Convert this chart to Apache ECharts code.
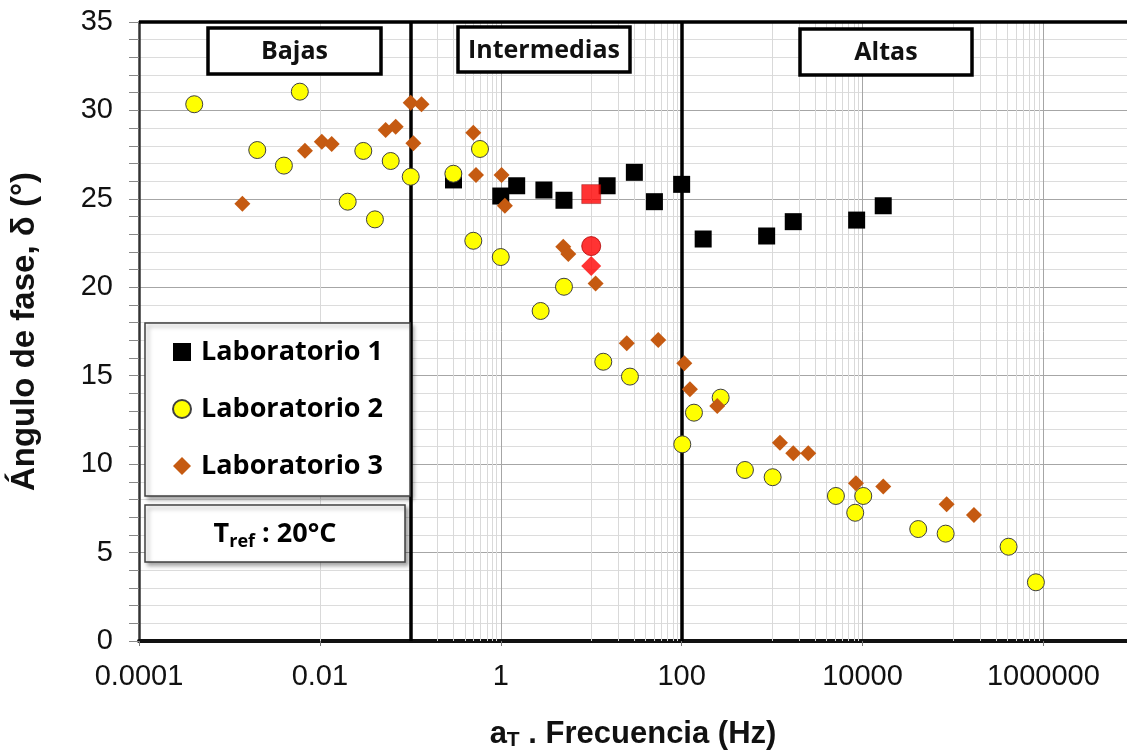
<!DOCTYPE html>
<html>
<head>
<meta charset="utf-8">
<script src="https://cdn.jsdelivr.net/npm/echarts@6/dist/echarts.min.js"></script>
<style>
html,body{margin:0;padding:0;background:#fff;}
#chart{width:1127px;height:752px;}
</style>
</head>
<body>
<div id="chart"></div>
<script>
// ---- data (frequency in Hz, phase angle in degrees) ----
const lab1 = [[0.3,26.07],[1.0,25.16],[1.5,25.74],[3.0,25.50],[5.0,24.92],[15,25.74],[30,26.5],[50,24.84],[100,25.82],[173,22.73],[871,22.90],[1714,23.71],[8610,23.80],[16940,24.61]];
const lab2 = [[0.000408,30.35],[0.00203,27.76],[0.0040,26.88],[0.0060,31.06],[0.0203,24.84],[0.0302,27.71],[0.0406,23.84],[0.0607,27.14],[0.101,26.25],[0.299,26.42],[0.497,22.63],[0.589,27.82],[1.0,21.71],[2.76,18.66],[5.0,20.03],[13.6,15.79],[26.8,14.95],[101.6,11.12],[136.8,12.91],[270,13.76],[501,9.67],[1014,9.26],[5080,8.20],[8300,7.25],[10190,8.20],[41300,6.33],[83000,6.07],[412000,5.33],[826000,3.32]];
const lab3 = [[0.00139,24.73],[0.00684,27.72],[0.0105,28.23],[0.0135,28.10],[0.0533,28.89],[0.0689,29.08],[0.101,30.44],[0.108,28.14],[0.133,30.35],[0.497,28.74],[0.532,26.35],[1.02,26.35],[1.11,24.61],[4.91,22.29],[5.58,21.88],[11.2,20.22],[24.7,16.83],[55.1,17.02],[107,15.70],[123.6,14.23],[247.7,13.29],[1221,11.21],[1714,10.61],[2512,10.61],[8453,8.92],[16940,8.73],[85100,7.73],[170600,7.12]];
// highlighted (red) points at the reference frequency
const lab1Ref = [[10,25.27]];
const lab2Ref = [[10,22.33]];
const lab3Ref = [[10,21.20]];
const seriesNames = ['Laboratorio 1','Laboratorio 2','Laboratorio 3'];
const xTickLabels = ['0.0001','0.01','1','100','10000','1000000'];
const rangeBounds = [0.1, 100];
const rangeNames = ['Bajas','Intermedias','Altas'];
const yTitle = 'Ángulo de fase, δ (°)';
const tempLabel = '20°C';

// minor vertical gridlines (Excel log base 100 style: 10..90 x 100^k)
const minorX = [];
[1e-3,1e-1,1e1,1e3,1e5].forEach(d => { for (let n=1;n<=9;n++) minorX.push(+(n*d).toPrecision(3)); });

const AR = "'Liberation Sans', Arial, sans-serif";
const OS = "'Open Sans', sans-serif";

function box(x, y, w, h, label) {
  return {type: 'group', x: x, y: y, children: [
    {type: 'rect', z: 100, shape: {x: 0, y: 0, width: w, height: h}, style: {fill: '#fff', stroke: '#000', lineWidth: 3.5}},
    {type: 'text', z: 101, x: w/2, y: h/2 + 1, style: {text: label, align: 'center', verticalAlign: 'middle', fontFamily: OS, fontWeight: 'bold', fontSize: 25, fill: '#111'}}
  ]};
}

const chart = echarts.init(document.getElementById('chart'));
const option = {
  animation: false,
  backgroundColor: '#ffffff',
  grid: {left: 139, top: 22, right: 0, bottom: 111, containLabel: false, outerBoundsMode: 'none'},
  xAxis: {
    type: 'log', logBase: 100, min: 1e-4, max: 8.4e6, splitNumber: 6,
    axisLine: {show: true, onZero: false, lineStyle: {color: '#111', width: 4}},
    axisTick: {show: true, length: 5, lineStyle: {color: '#777'}},
    splitLine: {show: true, lineStyle: {color: '#a6a6a6', width: 1}},
    axisLabel: {
      fontFamily: AR, fontSize: 29, color: '#111', margin: 21, showMaxLabel: false,
      formatter: v => { const i = Math.round(Math.log10(v)/2) + 2; return xTickLabels[i] || ''; }
    },
    name: '{m|a}{s|T}{m| . Frecuencia (Hz)}',
    nameLocation: 'middle', nameGap: 76,
    nameTextStyle: {
      rich: {
        m: {fontFamily: AR, fontWeight: 'bold', fontSize: 31, color: '#111', lineHeight: 34},
        s: {fontFamily: AR, fontWeight: 'bold', fontSize: 21, color: '#111', lineHeight: 20, verticalAlign: 'bottom'}
      }
    }
  },
  yAxis: {
    type: 'value', min: 0, max: 35, interval: 5,
    axisLine: {show: true, lineStyle: {color: '#333', width: 2.5}},
    axisTick: {show: true, inside: false, length: 10, lineStyle: {color: '#888'}},
    minorTick: {show: true, splitNumber: 5, length: 10, lineStyle: {color: '#888'}},
    splitLine: {show: true, lineStyle: {color: '#a6a6a6', width: 1}},
    minorSplitLine: {show: true, lineStyle: {color: '#dcdcdc', width: 1}},
    axisLabel: {fontFamily: AR, fontSize: 29, color: '#111', margin: 26},
    name: yTitle, nameLocation: 'middle', nameGap: 98,
    nameTextStyle: {fontFamily: AR, fontWeight: 'bold', fontSize: 33, color: '#111'}
  },
  legend: {
    data: seriesNames, z: 50,
    left: 145, top: 323, orient: 'vertical',
    itemWidth: 18, itemHeight: 18, itemGap: 27,
    padding: [14, 27, 15, 27],
    backgroundColor: '#fff', borderColor: '#404040', borderWidth: 1.5,
    shadowBlur: 4, shadowColor: 'rgba(0,0,0,0.35)', shadowOffsetX: 3, shadowOffsetY: 3,
    textStyle: {fontFamily: OS, fontWeight: 'bold', fontSize: 27, color: '#000', lineHeight: 30, padding: [0,0,0,5]}
  },
  graphic: [
    {type: 'group', x: 145, y: 505, children: [
      {type: 'rect', z: 100, shape: {x: 0, y: 0, width: 260, height: 57},
       style: {fill: '#fff', stroke: '#404040', lineWidth: 1.5, shadowBlur: 4, shadowColor: 'rgba(0,0,0,0.35)', shadowOffsetX: 3, shadowOffsetY: 3}},
      {type: 'text', z: 101, x: 130, y: 29,
       style: {text: '{b|T}{s|ref}{b| : ' + tempLabel + '}', align: 'center', verticalAlign: 'middle',
         rich: {
           b: {fontFamily: OS, fontWeight: 'bold', fontSize: 27, fill: '#000', lineHeight: 34},
           s: {fontFamily: OS, fontWeight: 'bold', fontSize: 18, fill: '#000', lineHeight: 18, verticalAlign: 'bottom'}
         }}}
    ]},
    box(208, 28, 173, 46, rangeNames[0]),
    box(458, 27, 172, 45, rangeNames[1]),
    box(800, 29, 172, 46, rangeNames[2])
  ],
  series: [
    {type: 'scatter', name: 'minorGrid', data: [], z: 1, silent: true,
     markLine: {z: 1, silent: true, symbol: ['none','none'], label: {show: false}, animation: false,
       lineStyle: {color: '#d9d9d9', width: 1, type: 'solid'},
       data: minorX.map(v => ({xAxis: v}))}},
    {type: 'scatter', name: 'bounds', data: [], z: 2, silent: true,
     markLine: {z: 2, silent: true, symbol: ['none','none'], label: {show: false}, animation: false,
       lineStyle: {color: '#000', width: 3.5, type: 'solid'},
       data: rangeBounds.map(v => ({xAxis: v})).concat([{yAxis: 35}])}},
    {type: 'scatter', name: seriesNames[0], data: lab1, z: 10, symbol: 'rect', symbolSize: 17,
     itemStyle: {color: '#000', opacity: 1}},
    {type: 'scatter', name: seriesNames[1], data: lab2, z: 11, symbol: 'circle', symbolSize: 17,
     itemStyle: {color: '#ffff00', borderColor: '#404040', borderWidth: 1, opacity: 1}},
    {type: 'scatter', name: seriesNames[2], data: lab3, z: 12, symbol: 'diamond', symbolSize: 16,
     itemStyle: {color: '#c55a11', opacity: 1}},
    {type: 'scatter', name: 'ref1', data: lab1Ref, z: 13, symbol: 'rect', symbolSize: 19,
     itemStyle: {color: '#ff0000', borderColor: '#7f1010', borderWidth: 0.5}},
    {type: 'scatter', name: 'ref2', data: lab2Ref, z: 13, symbol: 'circle', symbolSize: 19,
     itemStyle: {color: '#ff0000', borderColor: '#b00000', borderWidth: 1}},
    {type: 'scatter', name: 'ref3', data: lab3Ref, z: 13, symbol: 'diamond', symbolSize: 20,
     itemStyle: {color: '#ff0000'}}
  ]
};
chart.setOption(option);
</script>
</body>
</html>
